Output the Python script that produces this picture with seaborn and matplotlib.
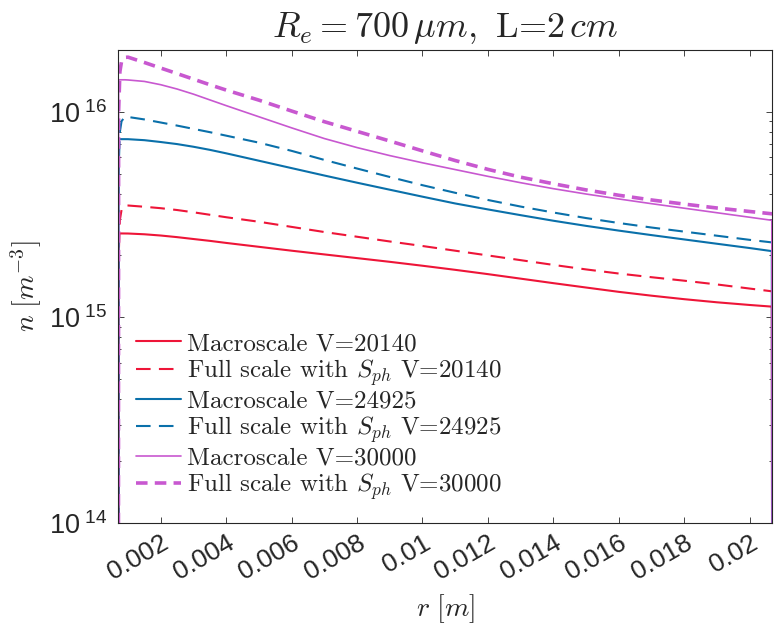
import numpy as np
import pandas as pd
import matplotlib
matplotlib.use("Agg")
import matplotlib.pyplot as plt
import seaborn as sns

# ---------------- data ----------------
r = [0.0007, 0.00071, 0.00075, 0.0008, 0.0009, 0.001, 0.0015, 0.002, 0.0025, 0.003,
     0.0035, 0.004, 0.005, 0.006, 0.007, 0.008, 0.009, 0.010, 0.011, 0.012,
     0.013, 0.014, 0.015, 0.016, 0.017, 0.018, 0.019, 0.020, 0.02068, 0.0207]

# densities in units of 1e15 m^-3
macro_20140 = [0.001, 2.559, 2.559, 2.559, 2.558, 2.557, 2.535, 2.500, 2.455, 2.404,
               2.355, 2.301, 2.203, 2.109, 2.023, 1.941, 1.862, 1.782, 1.702, 1.622,
               1.542, 1.466, 1.396, 1.330, 1.274, 1.225, 1.183, 1.148, 1.127, 0.001]
full_20140 = [0.001, 1.93, 2.98, 3.33, 3.50, 3.50, 3.451, 3.396, 3.327, 3.243,
              3.155, 3.069, 2.917, 2.754, 2.600, 2.466, 2.339, 2.223, 2.109, 2.000,
              1.897, 1.799, 1.710, 1.633, 1.567, 1.507, 1.445, 1.380, 1.338, 1.337]
macro_24925 = [0.001, 7.362, 7.362, 7.362, 7.362, 7.36, 7.278, 7.129, 6.966, 6.761,
               6.531, 6.281, 5.781, 5.321, 4.898, 4.519, 4.178, 3.864, 3.581, 3.350,
               3.141, 2.951, 2.786, 2.642, 2.512, 2.393, 2.280, 2.173, 2.099, 0.001]
full_24925 = [0.001, 5.2, 8.0, 9.0, 9.46, 9.44, 9.183, 8.872, 8.570, 8.260,
              7.962, 7.656, 7.079, 6.457, 5.834, 5.297, 4.819, 4.395, 4.036, 3.724,
              3.459, 3.236, 3.041, 2.877, 2.735, 2.612, 2.495, 2.382, 2.315, 2.312]
macro_30000 = [0.001, 14.32, 14.32, 14.32, 14.32, 14.29, 14.06, 13.55, 12.91, 12.19,
               11.43, 10.72, 9.462, 8.356, 7.413, 6.699, 6.124, 5.649, 5.236, 4.853,
               4.519, 4.227, 3.981, 3.767, 3.573, 3.396, 3.228, 3.069, 2.965, 0.001]
full_30000 = [0.001, 10.0, 15.7, 17.6, 18.41, 18.45, 17.38, 16.33, 15.35, 14.42,
              13.55, 12.76, 11.40, 10.09, 8.954, 8.035, 7.211, 6.457, 5.794, 5.248,
              4.808, 4.467, 4.169, 3.926, 3.724, 3.556, 3.404, 3.273, 3.19, 3.184]
UNIT = 1e15

labels = ["Macroscale V=20140",
          "Full scale with $S_{ph}$ V=20140",
          "Macroscale V=24925",
          "Full scale with $S_{ph}$ V=24925",
          "Macroscale V=30000",
          "Full scale with $S_{ph}$ V=30000"]

xtick_vals = [0.002, 0.004, 0.006, 0.008, 0.01, 0.012, 0.014, 0.016, 0.018, 0.02]
xtick_labels = ["0.002", "0.004", "0.006", "0.008", "0.01", "0.012", "0.014", "0.016", "0.018", "0.02"]
ytick_vals = [1e14, 1e15, 1e16]
ytick_labels = [r"$\mathdefault{10^{\ 14}}$", r"$\mathdefault{10^{\ 15}}$", r"$\mathdefault{10^{\ 16}}$"]

# ---------------- style ----------------
sns.set_theme(style="ticks")
plt.rcParams["font.family"] = ["Liberation Sans", "DejaVu Sans"]
plt.rcParams["mathtext.fontset"] = "cm"
plt.rcParams["axes.edgecolor"] = "#262626"
plt.rcParams["axes.linewidth"] = 0.8
plt.rcParams["axes.unicode_minus"] = False

CMFAM = ["cmr10", "DejaVu Serif"]

RED = "#EE1538"
BLUE = "#0A70AA"
MAG = "#C858D0"

series = [
    (macro_20140, RED, "-", 1.5),
    (full_20140, RED, (0, (7, 4)), 1.5),
    (macro_24925, BLUE, "-", 1.5),
    (full_24925, BLUE, (0, (7, 4)), 1.5),
    (macro_30000, MAG, "-", 1.2),
    (full_30000, MAG, (0, (3.2, 2.0)), 2.6),
]

fig = plt.figure(figsize=(7.74, 6.36), dpi=100)
ax = fig.add_axes([0.1528, 0.1781, 0.998 - 0.1528, 0.9214 - 0.1781])

for (vals, col, ls, lw), lab in zip(series, labels):
    sns.lineplot(x=r, y=np.array(vals) * UNIT, ax=ax, color=col, linestyle=ls, linewidth=lw,
                 label=lab, sort=False, errorbar=None)

ax.set_yscale("log")
ax.set_xlim(0.0007, 0.0207)
ax.set_ylim(1e14, 2e16)

ax.set_xticks(xtick_vals)
ax.set_xticklabels(xtick_labels, rotation=30, ha="right", rotation_mode="anchor", fontsize=19)
ax.set_yticks(ytick_vals)
ax.set_yticklabels(ytick_labels, fontsize=19.5)

ax.tick_params(which="both", direction="in", top=True, right=True, width=0.6, color="#262626")
ax.tick_params(which="major", length=4.5)
ax.tick_params(which="minor", length=2.5)
ax.tick_params(axis="x", which="major", pad=6)
ax.tick_params(axis="y", which="major", pad=8)
ax.tick_params(axis="x", which="minor", top=False, bottom=False)

ax.set_xlabel(r"$r\ [m]$", fontsize=20, labelpad=5)
ax.set_ylabel(r"$n\ [m^{-3}]$", fontsize=20, labelpad=3)
ax.set_title(r"$R_e = 700\,\mu m,$ L=2$\,cm$", fontsize=26, pad=9, family=CMFAM)

for sp in ax.spines.values():
    sp.set_visible(True)

leg = ax.legend(loc="lower left", bbox_to_anchor=(0.027, 0.043), frameon=False,
                prop={"family": CMFAM, "size": 18}, handlelength=1.8, handletextpad=0.25,
                labelspacing=0.08, borderpad=0, borderaxespad=0)

fig.savefig("out.png", dpi=100)
